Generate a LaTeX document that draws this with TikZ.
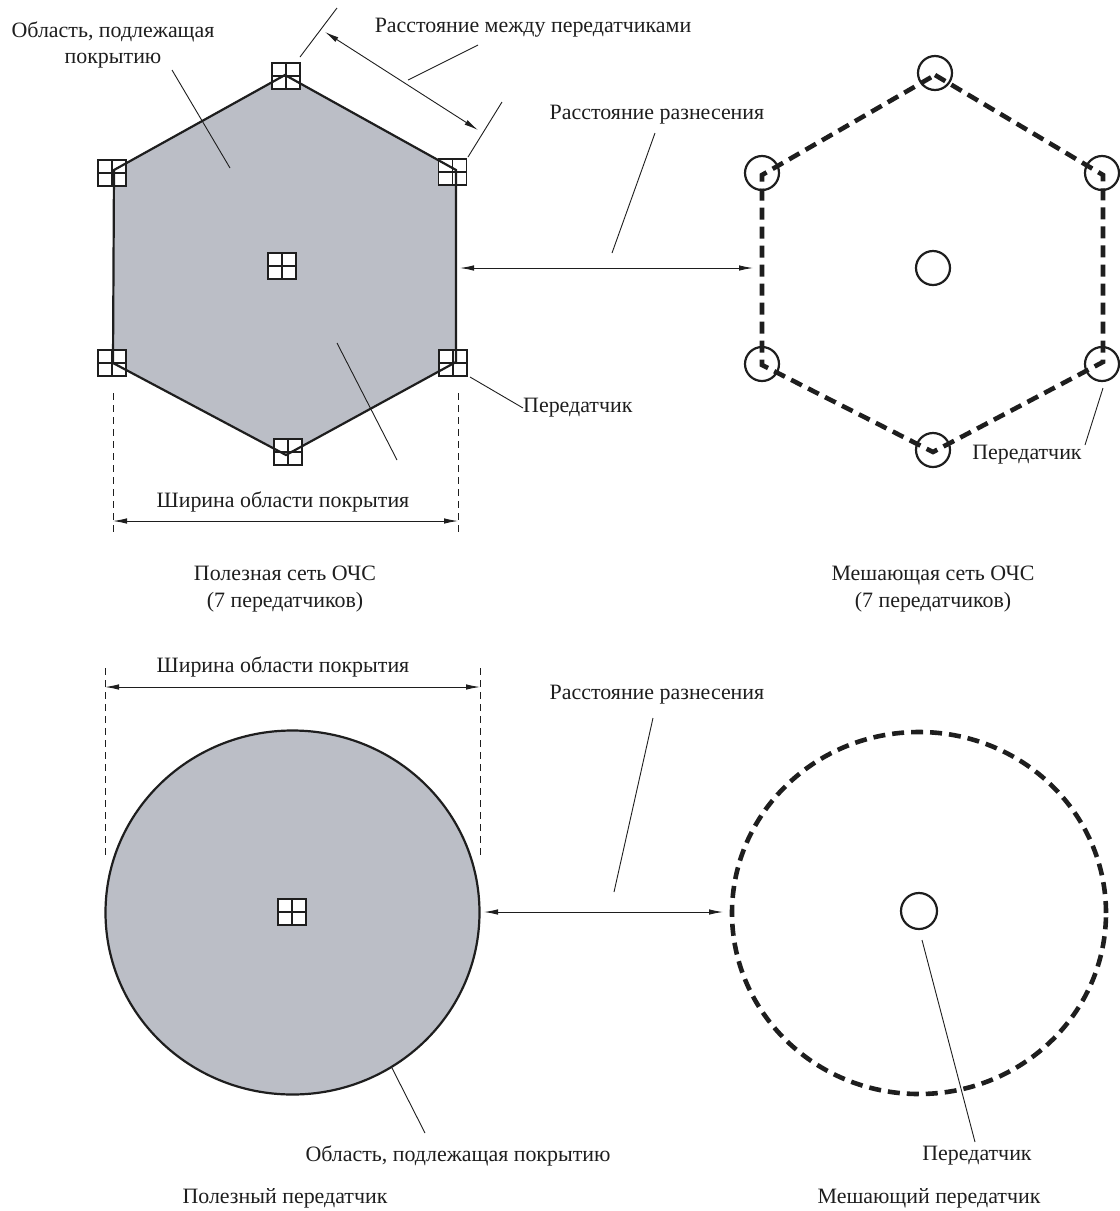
\documentclass[tikz,border=0pt]{standalone}
\usepackage{fontspec}
\setmainfont{Liberation Serif}
\usetikzlibrary{arrows.meta}
\definecolor{areagray}{RGB}{187,190,198}
\definecolor{ink}{RGB}{30,30,30}
\begin{document}
\begin{tikzpicture}[x=1bp,y=-1bp,
  lbl/.style={font=\fontsize{22}{27}\selectfont, inner sep=0pt, align=center, text=ink},
  thinline/.style={line width=0.9bp, draw=ink},
  dimarrow/.style={thinline, {Latex[length=14bp,width=5.5bp]}-{Latex[length=14bp,width=5.5bp]}},
  extline/.style={line width=0.9bp, draw=ink, dash pattern=on 7bp off 5bp},
  hexline/.style={line width=2.2bp, draw=ink, line join=miter},
  thickdash/.style={line width=4.6bp, draw=ink, dash pattern=on 12bp off 7bp},
  tx/.style={draw=ink, fill=white, line width=1.3bp, minimum width=28bp, minimum height=26bp, inner sep=0pt,
    path picture={\draw[line width=1.3bp, ink] (path picture bounding box.north) -- (path picture bounding box.south)
      (path picture bounding box.west) -- (path picture bounding box.east);}},
  rx/.style={circle, draw=ink, line width=2.2bp, minimum size=34bp, inner sep=0pt}
]
\useasboundingbox (0,0) rectangle (1120,1211);

% ---------- wanted SFN (hexagon) ----------
\coordinate (h1) at (285,75);
\coordinate (h2) at (456,170);
\coordinate (h3) at (456,362);
\coordinate (h4) at (286,455);
\coordinate (h5) at (113,363);
\coordinate (h6) at (114,170);
\fill[areagray] (h1) -- (h2) -- (h3) -- (h4) -- (h5) -- (h6) -- cycle;
\node[tx] (t1) at (286,76) {};
\node[tx] (t2) at (452.5,172) {};
\node[tx] (t3) at (453,363) {};
\node[tx] (t4) at (288,452) {};
\node[tx] (t5) at (112,363) {};
\node[tx] (t6) at (112,173) {};
\node[tx] (t0) at (282,266) {};
\draw[hexline] (h1) -- (h2) -- (h3) -- (h4) -- (h5) -- (h6) -- cycle;

% distance between transmitters
\coordinate (dA) at (325,32);
\coordinate (dB) at (478,130);
\draw[dimarrow] (dA) -- (dB);
\coordinate (e1a) at (337,8);  \coordinate (e1b) at (300,57);
\coordinate (e2a) at (502,102); \coordinate (e2b) at (468,157);
\draw[thinline] (e1a) -- (e1b);
\draw[thinline] (e2a) -- (e2b);
\node[lbl] (ldist) at (533,28) {Расстояние между передатчиками};
\coordinate (ld1) at (478,45); \coordinate (ld2) at (408,80);
\draw[thinline] (ld1) -- (ld2);

% area label top-left
\node[lbl] (larea) at (113,45) {Область, подлежащая\\покрытию};
\coordinate (la1) at (172,70); \coordinate (la2) at (230,168);
\draw[thinline] (la1) -- (la2);
\coordinate (lc1) at (337,343); \coordinate (lc2) at (397,460);
\draw[thinline] (lc1) -- (lc2);

% transmitter label
\node[lbl, anchor=west] (ltx1) at (523,408) {Передатчик};
\coordinate (lt1) at (470,377);
\draw[thinline] (lt1) -- (ltx1.west);

% coverage width
\coordinate (w1a) at (113,393); \coordinate (w1b) at (113,534);
\coordinate (w2a) at (458,393); \coordinate (w2b) at (458,534);
\draw[extline] (w1a) -- (w1b);
\draw[extline] (w2a) -- (w2b);
\coordinate (wA) at (113,521); \coordinate (wB) at (458,521);
\draw[dimarrow] (wA) -- (wB);
\node[lbl] (lwidth) at (283,502) {Ширина области покрытия};

\node[lbl] (cap1) at (285,589) {Полезная сеть ОЧС\\(7 передатчиков)};

% separation distance (top)
\coordinate (sA) at (460,268); \coordinate (sB) at (753,268);
\draw[dimarrow] (sA) -- (sB);
\node[lbl] (lsep1) at (657,115) {Расстояние разнесения};
\coordinate (ls1) at (655,133); \coordinate (ls2) at (612,253);
\draw[thinline] (ls1) -- (ls2);

% ---------- interfering SFN ----------
\coordinate (g1) at (935,75);
\coordinate (g2) at (1103,175);
\coordinate (g3) at (1103,362);
\coordinate (g4) at (933,452);
\coordinate (g5) at (762,365);
\coordinate (g6) at (762,175);
\draw[thickdash] (g1) -- (g2) -- (g3) -- (g4) -- (g5) -- (g6) -- cycle;
\node[rx] (r1) at (935,73) {};
\node[rx] (r2) at (1102,173) {};
\node[rx] (r3) at (1102,364) {};
\node[rx] (r4) at (933,450) {};
\node[rx] (r5) at (762,364) {};
\node[rx] (r6) at (762,173) {};
\node[rx] (r0) at (933,268) {};
\node[lbl] (ltx2) at (1027,455) {Передатчик};
\coordinate (lr1) at (1103,388); \coordinate (lr2) at (1085,445);
\draw[thinline] (lr1) -- (lr2);
\node[lbl] (cap2) at (933,589) {Мешающая сеть ОЧС\\(7 передатчиков)};

% ---------- bottom: wanted transmitter ----------
\node[lbl] (lwidth2) at (283,667) {Ширина области покрытия};
\coordinate (v1a) at (105,668); \coordinate (v1b) at (105,860);
\coordinate (v2a) at (480,668); \coordinate (v2b) at (480,860);
\draw[extline] (v1a) -- (v1b);
\draw[extline] (v2a) -- (v2b);
\coordinate (vA) at (105,687); \coordinate (vB) at (480,687);
\draw[dimarrow] (vA) -- (vB);
\coordinate (cw) at (292.5,912.5);
\draw[areagray, fill=areagray] (cw) ellipse [x radius=187bp, y radius=182bp];
\draw[hexline] (cw) ellipse [x radius=187bp, y radius=182bp];
\node[tx] (t7) at (292,912) {};
\coordinate (la3) at (392,1068); \coordinate (la4) at (425,1133);
\draw[thinline] (la3) -- (la4);
\node[lbl] (larea2) at (458,1156) {Область, подлежащая покрытию};
\node[lbl] (cap3) at (285,1198) {Полезный передатчик};

% separation distance (bottom)
\coordinate (qA) at (484,912); \coordinate (qB) at (723,912);
\draw[dimarrow] (qA) -- (qB);
\node[lbl] (lsep2) at (657,695) {Расстояние разнесения};
\coordinate (lq1) at (653,718); \coordinate (lq2) at (614,892);
\draw[thinline] (lq1) -- (lq2);

% ---------- bottom: interfering transmitter ----------
\coordinate (ci) at (919,913);
\draw[thickdash] (ci) ellipse [x radius=187bp, y radius=181bp];
\node[rx, minimum size=36bp] (r7) at (919,911) {};
\coordinate (lp1) at (922,940); \coordinate (lp2) at (975,1142);
\draw[thinline] (lp1) -- (lp2);
\node[lbl] (ltx3) at (977,1156) {Передатчик};
\node[lbl] (cap4) at (929,1198) {Мешающий передатчик};
\end{tikzpicture}
\end{document}
